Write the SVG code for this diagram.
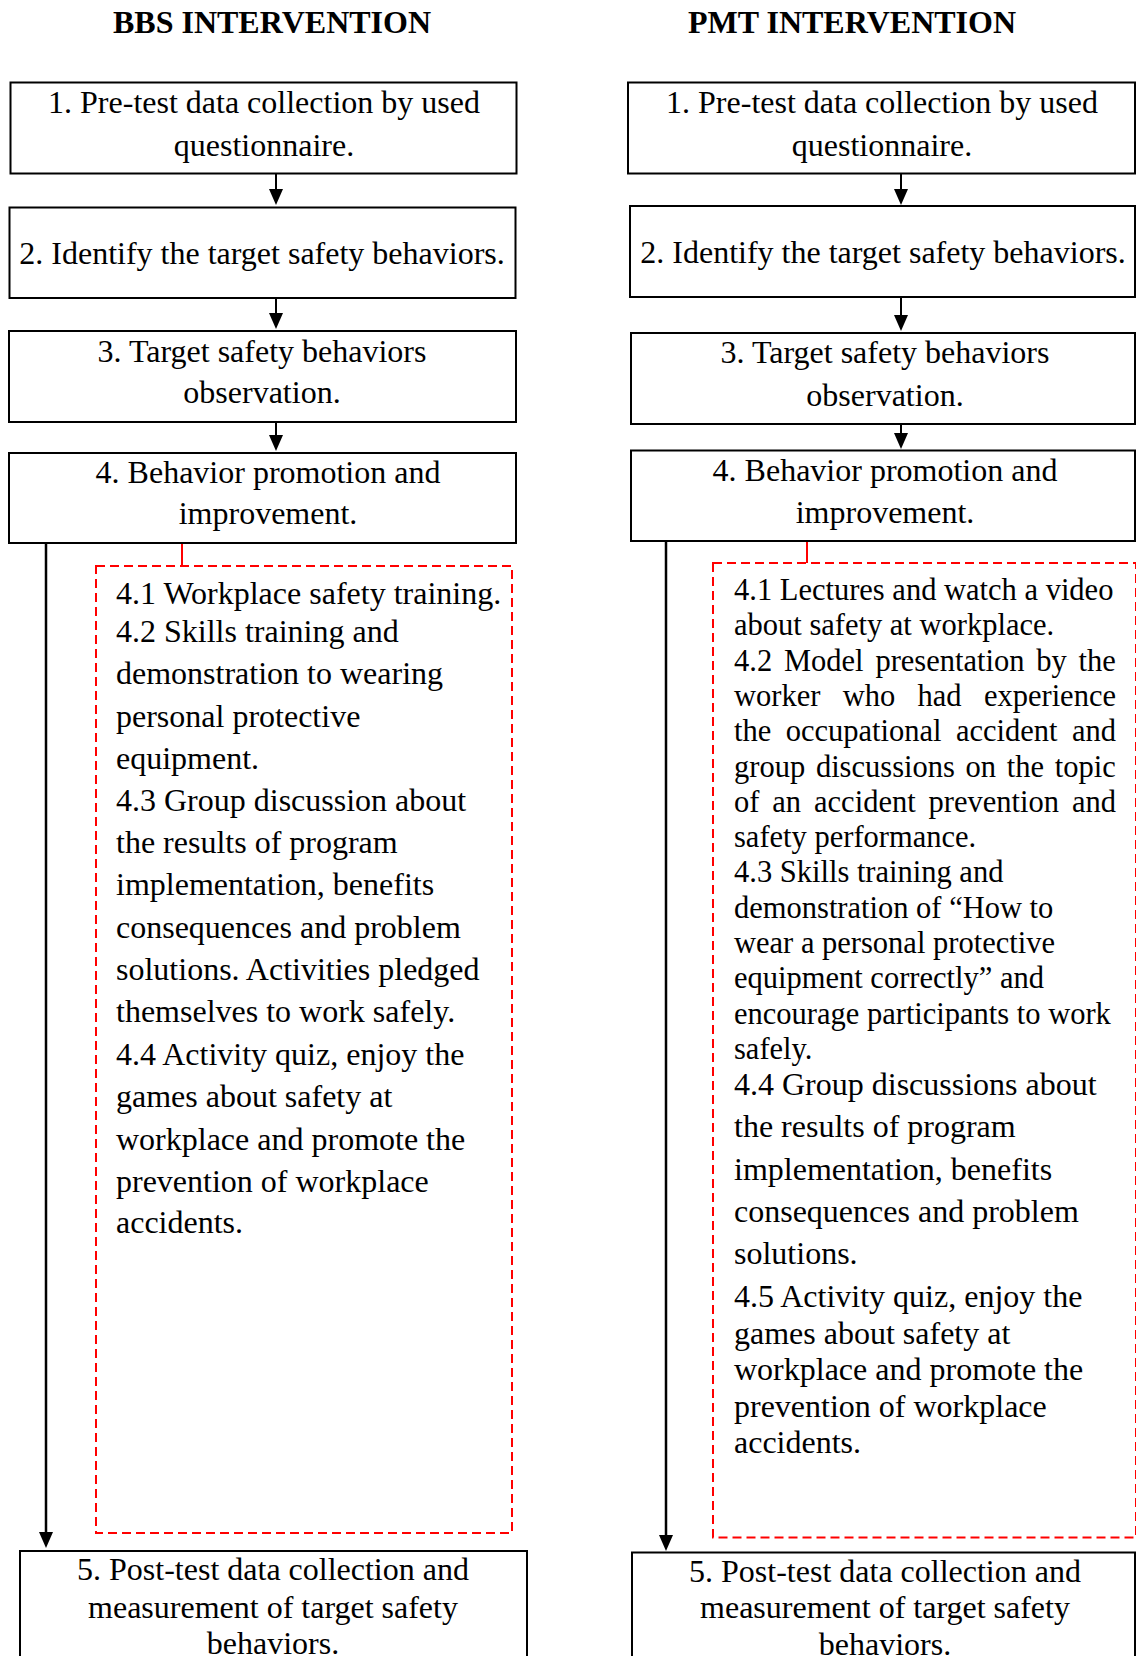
<svg xmlns="http://www.w3.org/2000/svg" width="1136" height="1656" viewBox="0 0 1136 1656">
<style>
.box{fill:#fff;stroke:#000;stroke-width:2}
.red{fill:none;stroke:#f00;stroke-width:2;stroke-dasharray:9 5}
.stub{stroke:#f00;stroke-width:2;fill:none}
.conn{stroke:#000;stroke-width:2;fill:none}
.long{stroke:#000;stroke-width:2.5;fill:none}
.t{font-family:"Liberation Serif","Times New Roman",serif;font-size:32px;fill:#000}
.c{text-anchor:middle}
.title{font-family:"Liberation Serif","Times New Roman",serif;font-size:32px;font-weight:bold;text-anchor:middle;fill:#000}
.s{font-size:30.5px}
</style>
<defs>
<path id="head" d="M-7,0 L7,0 L0,16 Z" fill="#000"/>
</defs>
<rect width="1136" height="1656" fill="#fff"/>

<g id="titles">
<text class="title" x="272" y="33">BBS INTERVENTION</text>
<text class="title" x="852" y="33">PMT INTERVENTION</text>
</g>

<g id="connectors">
<path class="conn" d="M276,174 V190"/><use href="#head" x="276" y="189"/>
<path class="conn" d="M276,298 V314"/><use href="#head" x="276" y="313"/>
<path class="conn" d="M276,422 V436"/><use href="#head" x="276" y="435"/>
<path class="conn" d="M901,174 V190"/><use href="#head" x="901" y="189"/>
<path class="conn" d="M901,297 V316"/><use href="#head" x="901" y="315"/>
<path class="conn" d="M901,424 V434"/><use href="#head" x="901" y="433"/>
<path class="long" d="M46,543 V1533"/><use href="#head" x="46" y="1532"/>
<path class="long" d="M666,541 V1536"/><use href="#head" x="666" y="1535"/>
<path class="stub" d="M182,543 V566"/>
<path class="stub" d="M807,541 V563"/>
</g>

<g id="bbs-1">
<rect class="box" x="10.5" y="82.5" width="506" height="91"/>
<text class="t c" x="264" y="113">1. Pre-test data collection by used</text>
<text class="t c" x="264" y="156">questionnaire.</text>
</g>
<g id="bbs-2">
<rect class="box" x="9.5" y="207.5" width="506" height="90.5"/>
<text class="t c" x="262" y="264">2. Identify the target safety behaviors.</text>
</g>
<g id="bbs-3">
<rect class="box" x="9" y="331" width="507" height="91"/>
<text class="t c" x="262" y="362">3. Target safety behaviors</text>
<text class="t c" x="262" y="403">observation.</text>
</g>
<g id="bbs-4">
<rect class="box" x="9" y="453" width="507" height="90"/>
<text class="t c" x="268" y="483">4. Behavior promotion and</text>
<text class="t c" x="268" y="524">improvement.</text>
</g>
<g id="bbs-4-detail">
<rect class="red" x="96" y="566" width="416" height="967"/>
<text class="t" x="116" y="604">4.1 Workplace safety training.</text>
<text class="t" x="116" y="642">4.2 Skills training and</text>
<text class="t" x="116" y="684">demonstration to wearing</text>
<text class="t" x="116" y="727">personal protective</text>
<text class="t" x="116" y="769">equipment.</text>
<text class="t" x="116" y="811">4.3 Group discussion about</text>
<text class="t" x="116" y="853">the results of program</text>
<text class="t" x="116" y="895">implementation, benefits</text>
<text class="t" x="116" y="938">consequences and problem</text>
<text class="t" x="116" y="980">solutions. Activities pledged</text>
<text class="t" x="116" y="1022">themselves to work safely.</text>
<text class="t" x="116" y="1065">4.4 Activity quiz, enjoy the</text>
<text class="t" x="116" y="1107">games about safety at</text>
<text class="t" x="116" y="1150">workplace and promote the</text>
<text class="t" x="116" y="1192">prevention of workplace</text>
<text class="t" x="116" y="1233">accidents.</text>
</g>
<g id="bbs-5">
<rect class="box" x="20" y="1551" width="507" height="115"/>
<text class="t c" x="273" y="1580">5. Post-test data collection and</text>
<text class="t c" x="273" y="1618">measurement of target safety</text>
<text class="t c" x="273" y="1654">behaviors.</text>
</g>

<g id="pmt-1">
<rect class="box" x="628" y="82.5" width="507" height="91"/>
<text class="t c" x="882" y="113">1. Pre-test data collection by used</text>
<text class="t c" x="882" y="156">questionnaire.</text>
</g>
<g id="pmt-2">
<rect class="box" x="630" y="206" width="505" height="91"/>
<text class="t c" x="883" y="263">2. Identify the target safety behaviors.</text>
</g>
<g id="pmt-3">
<rect class="box" x="631" y="333" width="504" height="91"/>
<text class="t c" x="885" y="363">3. Target safety behaviors</text>
<text class="t c" x="885" y="406">observation.</text>
</g>
<g id="pmt-4">
<rect class="box" x="631" y="450.5" width="504" height="90.5"/>
<text class="t c" x="885" y="481">4. Behavior promotion and</text>
<text class="t c" x="885" y="523">improvement.</text>
</g>
<g id="pmt-4-detail">
<rect class="red" x="713" y="563" width="423" height="974.5"/>
<text class="t s" x="734" y="600">4.1 Lectures and watch a video</text>
<text class="t s" x="734" y="635">about safety at workplace.</text>
<text class="t s" x="734" y="671" word-spacing="4.2">4.2 Model presentation by the</text>
<text class="t s" x="734" y="706" word-spacing="14.7">worker who had experience</text>
<text class="t s" x="734" y="741" word-spacing="6.8">the occupational accident and</text>
<text class="t s" x="734" y="777" word-spacing="3.1">group discussions on the topic</text>
<text class="t s" x="734" y="812" word-spacing="5.3">of an accident prevention and</text>
<text class="t s" x="734" y="847">safety performance.</text>
<text class="t s" x="734" y="882">4.3 Skills training and</text>
<text class="t s" x="734" y="918">demonstration of “How to</text>
<text class="t s" x="734" y="953">wear a personal protective</text>
<text class="t s" x="734" y="988">equipment correctly” and</text>
<text class="t s" x="734" y="1024">encourage participants to work</text>
<text class="t s" x="734" y="1059">safely.</text>
<text class="t" x="734" y="1095">4.4 Group discussions about</text>
<text class="t" x="734" y="1137">the results of program</text>
<text class="t" x="734" y="1180">implementation, benefits</text>
<text class="t" x="734" y="1222">consequences and problem</text>
<text class="t" x="734" y="1264">solutions.</text>
<text class="t" x="734" y="1307">4.5 Activity quiz, enjoy the</text>
<text class="t" x="734" y="1344">games about safety at</text>
<text class="t" x="734" y="1380">workplace and promote the</text>
<text class="t" x="734" y="1417">prevention of workplace</text>
<text class="t" x="734" y="1453">accidents.</text>
</g>
<g id="pmt-5">
<rect class="box" x="632" y="1552.5" width="503" height="115"/>
<text class="t c" x="885" y="1582">5. Post-test data collection and</text>
<text class="t c" x="885" y="1618">measurement of target safety</text>
<text class="t c" x="885" y="1655">behaviors.</text>
</g>
</svg>
